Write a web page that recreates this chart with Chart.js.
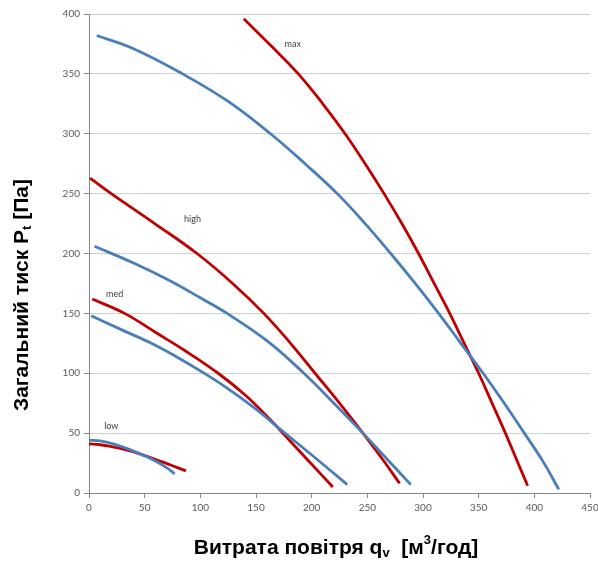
<!DOCTYPE html>
<html><head><meta charset="utf-8">
<script src="https://cdn.jsdelivr.net/npm/chart.js@4.4.1/dist/chart.umd.min.js"></script>
<style>html,body{margin:0;padding:0;background:#fff}#wrap{width:598px;height:563px}</style>
</head><body><div id="wrap"><canvas id="c" width="598" height="563"></canvas></div>
<script>
// ---- data ----
const xTickValues = [0, 50, 100, 150, 200, 250, 300, 350, 400, 450];
const yTickValues = [0, 50, 100, 150, 200, 250, 300, 350, 400];

const maxBlueX = [7, 40, 84, 125, 163, 194, 223, 248, 271, 293, 314, 334, 354, 373, 391, 408, 422];
const maxBlueY = [382, 371, 350, 327, 300, 275, 250, 225, 200, 175, 150, 125, 100, 75, 50, 26, 3];
const maxRedX = [139, 164, 188, 210, 230, 248, 265, 281, 296, 310, 324, 337, 350, 362, 374, 384, 394];
const maxRedY = [396, 373, 350, 325, 300, 275, 250, 225, 200, 175, 150, 125, 100, 75, 50, 28, 6];

const highBlueX = [5, 40, 71, 100, 124, 160, 193, 220, 246, 268, 289];
const highBlueY = [206, 192, 178, 163, 150, 127, 100, 75, 50, 28, 7];
const highRedX = [1, 20, 59, 97, 129, 157, 181, 203, 225, 246, 263, 279];
const highRedY = [263, 250, 225, 200, 175, 150, 125, 100, 75, 50, 29, 8];

const medBlueX = [2, 30, 56, 80, 100, 125, 150, 176, 205, 232];
const medBlueY = [148, 136, 125, 113, 102, 87, 70, 50, 28, 7];
const medRedX = [3, 32, 60, 86, 116, 140, 162, 180, 200, 219];
const medRedY = [162, 150, 134, 119, 100, 82, 62, 44, 24, 5];

const lowBlueX = [0, 10, 20, 30, 40, 50, 60, 70, 77];
const lowBlueY = [44, 43.5, 41.5, 38.5, 35, 31, 26.5, 21, 16];
const lowRedX = [0, 10, 20, 30, 40, 50, 60, 70, 80, 87];
const lowRedY = [41, 40.3, 38.8, 36.8, 34.3, 31.3, 28, 24.5, 21, 18.5];

const curveLabels = ['max', 'high', 'med', 'low'];
const curveLabelX = [183, 93, 23, 20];
const curveLabelY = [375, 229, 166, 56];

const xTitleParts = ['Витрата повітря q', 'v', '  [м', '3', '/год]'];
const yTitleParts = ['Загальний тиск P', 't', ' [Па]'];

// ---- build ----
const BLUE = '#4a7ebb', RED = '#c00000';
function pts(xs, ys) { return xs.map((x, i) => ({x: x, y: ys[i]})); }
function ds(xs, ys, color) {
  return {data: pts(xs, ys), borderColor: color, backgroundColor: color, borderWidth: 2.8,
    pointRadius: 0, showLine: true, fill: false, tension: 0.4};
}

const labelPlugin = {
  id: 'labels',
  afterDatasetsDraw(chart) {
    const ctx = chart.ctx, xs = chart.scales.x, ys = chart.scales.y;
    ctx.save();
    ctx.font = '9px Lato, "Open Sans", sans-serif';
    ctx.fillStyle = '#404040';
    ctx.textAlign = 'center';
    ctx.textBaseline = 'middle';
    curveLabels.forEach((t, i) => ctx.fillText(t, xs.getPixelForValue(curveLabelX[i]), ys.getPixelForValue(curveLabelY[i])));
    ctx.restore();
  },
  afterDraw(chart) {
    const ctx = chart.ctx;
    const big = 'bold 21px "Liberation Sans", Arial, sans-serif';
    const small = 'bold 13px "Liberation Sans", Arial, sans-serif';
    function runs(parts, kinds) {
      return parts.map((t, i) => ({t: t, f: kinds[i] === 0 ? big : small, dy: kinds[i] === 1 ? 5 : (kinds[i] === 2 ? -8 : 0)}));
    }
    function drawRuns(rs, cx, cy, rot) {
      ctx.save();
      ctx.translate(cx, cy);
      ctx.rotate(rot);
      let w = 0;
      rs.forEach(r => { ctx.font = r.f; r.w = ctx.measureText(r.t).width; w += r.w; });
      let x = -w / 2;
      ctx.fillStyle = '#000';
      ctx.textBaseline = 'middle';
      ctx.textAlign = 'left';
      rs.forEach(r => { ctx.font = r.f; ctx.fillText(r.t, x, r.dy); x += r.w; });
      ctx.restore();
    }
    drawRuns(runs(xTitleParts, [0, 1, 0, 2, 0]), 336, 548, 0);
    drawRuns(runs(yTitleParts, [0, 1, 0]), 22, 295, -Math.PI / 2);
  }
};

new Chart(document.getElementById('c'), {
  type: 'scatter',
  data: {datasets: [
    ds(maxBlueX, maxBlueY, BLUE), ds(maxRedX, maxRedY, RED),
    ds(highBlueX, highBlueY, BLUE), ds(highRedX, highRedY, RED),
    ds(medBlueX, medBlueY, BLUE), ds(medRedX, medRedY, RED),
    ds(lowBlueX, lowBlueY, BLUE), ds(lowRedX, lowRedY, RED)
  ]},
  options: {
    responsive: false, animation: false, devicePixelRatio: 1,
    layout: {padding: {top: 14, right: 8, left: 0, bottom: 0}},
    plugins: {legend: {display: false}, tooltip: {enabled: false}},
    scales: {
      x: {
        type: 'linear', min: 0, max: 450,
        afterBuildTicks(s) { s.ticks = xTickValues.map(v => ({value: v})); },
        afterFit(s) { s.height = 70; s.paddingLeft = 0; s.paddingRight = 0; },
        ticks: {font: {family: 'Lato, "Open Sans", sans-serif', size: 10}, color: '#595959', padding: 4, maxRotation: 0},
        grid: {drawOnChartArea: false, drawTicks: true, tickLength: 5, color: '#868686'},
        border: {color: '#868686', width: 1}
      },
      y: {
        type: 'linear', min: 0, max: 400,
        afterBuildTicks(s) { s.ticks = yTickValues.map(v => ({value: v})); },
        afterFit(s) { s.width = 89; s.paddingTop = 0; s.paddingBottom = 0; },
        ticks: {font: {family: 'Lato, "Open Sans", sans-serif', size: 10}, color: '#595959', padding: 4},
        grid: {color: '#d0d0d0', tickLength: 5, tickColor: '#868686'},
        border: {color: '#868686', width: 1}
      }
    }
  },
  plugins: [labelPlugin]
});
</script></body></html>
